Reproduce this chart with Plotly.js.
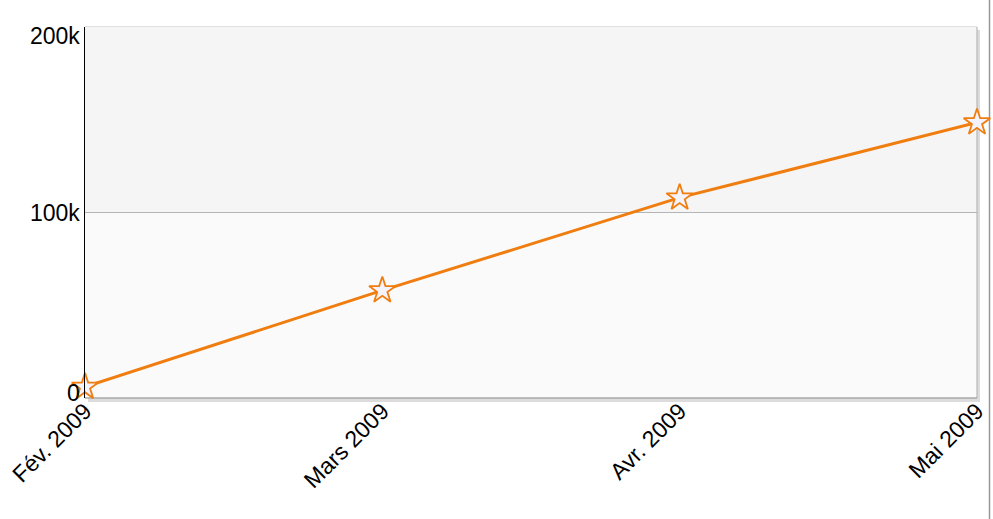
<!DOCTYPE html>
<html><head><meta charset="utf-8">
<script src="https://cdn.plot.ly/plotly-3.0.1.min.js"></script>
<style>html,body{margin:0;padding:0;background:#fff}#c{width:993px;height:519px}</style>
</head><body><div id="c"></div>
<script>
const categories = ["Fév. 2009", "Mars 2009", "Avr. 2009", "Mai 2009"];
const values = [6000, 58000, 108000, 148500];
const yTickVals = [0, 100000, 200000];
const yTickText = ["0", "100k", "200k"];

const W = 993, H = 519, L = 85, R = 16, T = 27, B = 121;
const pw = W - L - R, ph = H - T - B;
const px = v => v / pw, py = v => v / ph;
const xIdx = categories.map((c, i) => i);
const FS = 23;

const trace = {
  x: xIdx, y: values, type: 'scatter', mode: 'lines+markers',
  line: {color: '#f07d0f', width: 3},
  marker: {symbol: 'star', size: 20, color: '#f4f2fb', line: {color: '#f07d0f', width: 1.8}},
  cliponaxis: false, hoverinfo: 'none'
};

const shapes = [
  {type: 'rect', xref: 'paper', yref: 'paper', x0: px(3), x1: 1 + px(3), y0: -py(4), y1: 1 - py(3), fillcolor: '#dcdcdc', line: {width: 0}, layer: 'below'},
  {type: 'rect', xref: 'paper', yref: 'paper', x0: 0, x1: 1, y0: 0, y1: 1 + py(1), fillcolor: '#e0e0e0', line: {width: 0}, layer: 'below'},
  {type: 'rect', xref: 'paper', yref: 'y', x0: 0, x1: 1, y0: 100000, y1: 200000, fillcolor: '#f5f5f5', line: {width: 0}, layer: 'below'},
  {type: 'rect', xref: 'paper', yref: 'y', x0: 0, x1: 1, y0: 0, y1: 100000, fillcolor: '#fafafa', line: {width: 0}, layer: 'below'},
  {type: 'line', xref: 'paper', yref: 'paper', x0: 1, x1: 1, y0: 0, y1: 1, line: {color: '#b8b8b8', width: 1.2}, layer: 'below'},
  {type: 'line', xref: 'paper', yref: 'paper', x0: 0, x1: 1, y0: 0, y1: 0, line: {color: '#aaaaaa', width: 1.5}, layer: 'below'},
  {type: 'line', xref: 'paper', yref: 'paper', x0: 1 + px(12.5), x1: 1 + px(12.5), y0: -py(B), y1: 1 + py(T), line: {color: '#999999', width: 1.5}, layer: 'below'}
];

const yShift = [5, 0, -9];
const annotations = yTickVals.map((v, i) => ({
  xref: 'paper', yref: 'y', x: 0, y: v, text: yTickText[i], showarrow: false,
  xanchor: 'right', yanchor: 'middle', xshift: -3, yshift: yShift[i],
  font: {size: FS, color: '#000'}
}));

const layout = {
  width: W, height: H,
  margin: {l: L, r: R, t: T, b: B, pad: 0},
  paper_bgcolor: '#ffffff', plot_bgcolor: 'rgba(0,0,0,0)',
  showlegend: false,
  font: {family: 'Liberation Sans, Arial, sans-serif', size: FS, color: '#000'},
  xaxis: {
    range: [0, categories.length - 1], tickvals: xIdx, ticktext: categories,
    tickangle: -45, showgrid: false, zeroline: false, showline: false, ticks: '',
    ticklabelstandoff: -6,
    tickfont: {size: FS, color: '#000'}, fixedrange: true
  },
  yaxis: {
    range: [0, 200000], tickvals: yTickVals, showticklabels: false,
    showgrid: true, gridcolor: '#b4b4b4', gridwidth: 1, zeroline: false,
    showline: true, linecolor: '#000', linewidth: 1.5, ticks: '', fixedrange: true
  },
  shapes: shapes,
  annotations: annotations
};

Plotly.newPlot('c', [trace], layout, {displayModeBar: false, staticPlot: true});
</script></body></html>
